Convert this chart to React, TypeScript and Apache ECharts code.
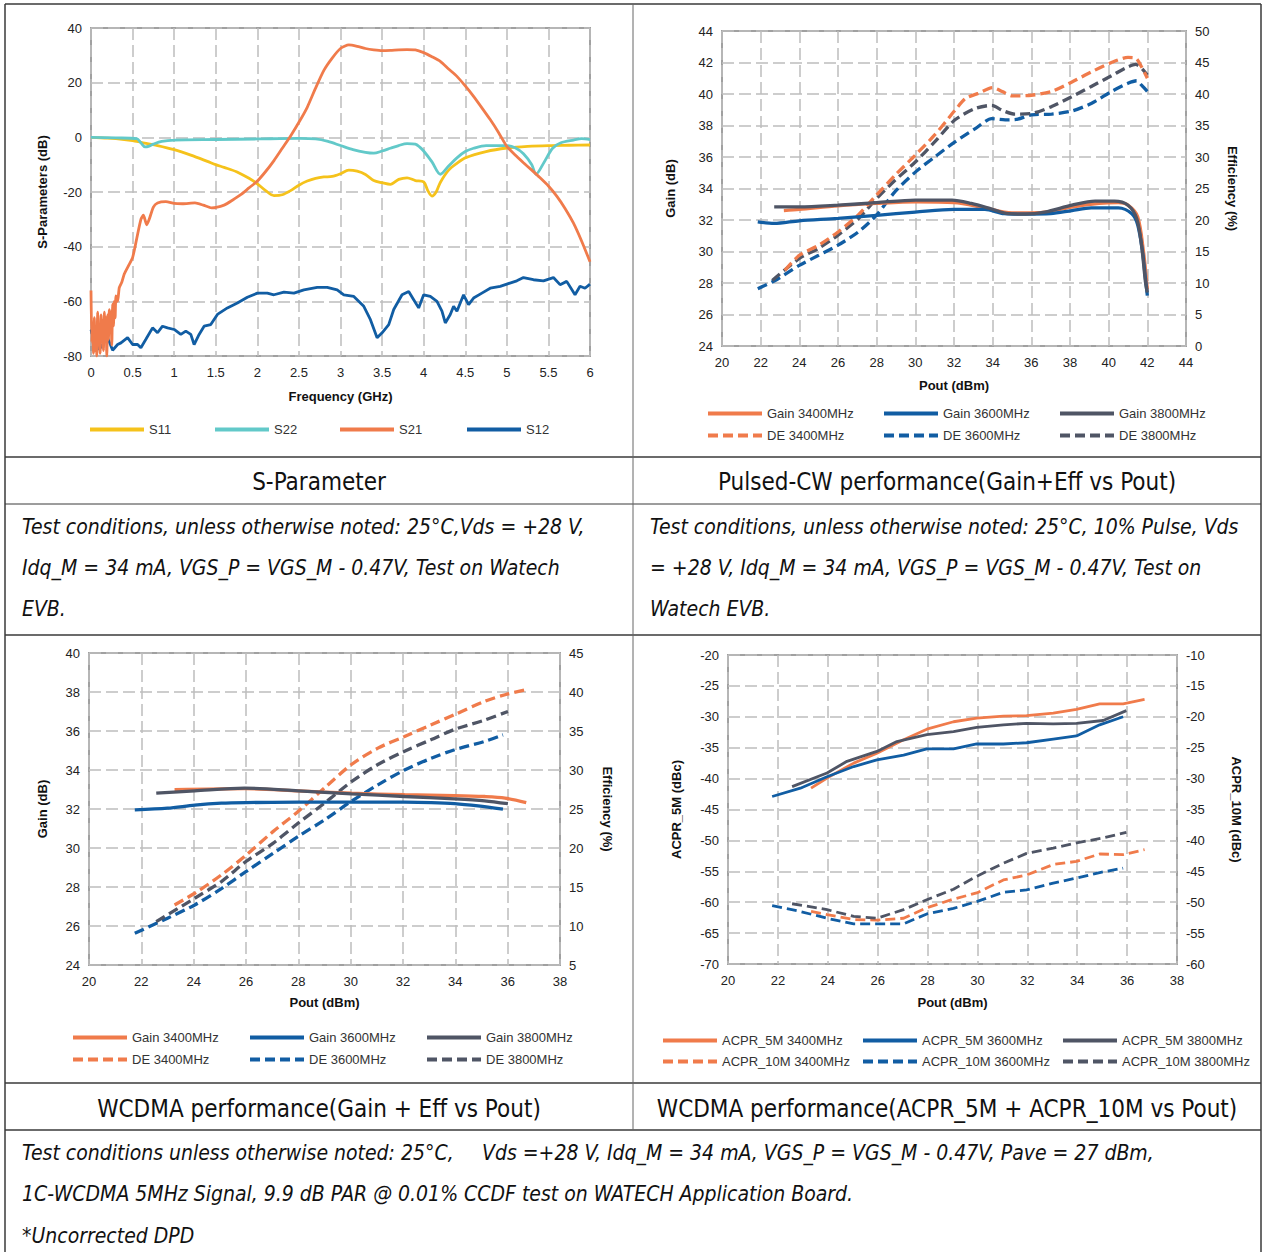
import React, { useEffect, useRef } from "react";
import * as echarts from "echarts";

// ---------- DATA ----------
// S-Parameter (frequency GHz, dB)
const s11 = [[0,0],[0.2,-0.3],[0.4,-0.8],[0.5,-1.2],[0.6,-1.8],[0.8,-3],[1.0,-4.5],[1.2,-6.5],[1.4,-8.8],[1.5,-10],[1.6,-11],[1.75,-12.6],[1.9,-15],[2.0,-17],[2.1,-19.5],[2.2,-21.3],[2.3,-21],[2.4,-19.5],[2.5,-17.5],[2.6,-16],[2.7,-15],[2.8,-14.5],[2.9,-14.3],[3.0,-13.3],[3.1,-12],[3.2,-12.4],[3.3,-13.6],[3.4,-15.8],[3.5,-16.6],[3.6,-17.2],[3.7,-15.4],[3.8,-14.8],[3.9,-15.8],[4.0,-16.3],[4.05,-19.5],[4.1,-21.5],[4.15,-20],[4.2,-16.5],[4.3,-12],[4.4,-9.5],[4.5,-7.5],[4.75,-5.2],[5.0,-3.9],[5.25,-3.3],[5.5,-3],[5.75,-2.9],[6.0,-2.8]];
const s22 = [[0,0],[0.3,-0.2],[0.55,-0.5],[0.6,-2],[0.65,-3.5],[0.7,-3.2],[0.75,-2.5],[0.85,-1.5],[1.0,-1],[1.5,-0.8],[2.0,-0.6],[2.5,-0.4],[2.7,-0.6],[2.85,-1.5],[3.0,-3],[3.15,-4.5],[3.3,-5.5],[3.4,-5.8],[3.5,-5],[3.6,-4],[3.7,-3],[3.8,-2.3],[3.9,-2.5],[3.95,-3.5],[4.0,-5],[4.1,-9],[4.2,-13.5],[4.3,-10.5],[4.4,-7.5],[4.5,-5.2],[4.6,-4],[4.75,-3],[5.0,-3],[5.1,-3.8],[5.2,-6],[5.3,-10],[5.35,-13.5],[5.45,-9],[5.55,-4],[5.65,-2],[5.8,-1],[5.9,-0.5],[6.0,-0.8]];
const s21 = [[0,-56],[0.01,-75],[0.02,-68],[0.03,-79],[0.04,-66],[0.05,-78],[0.06,-70],[0.07,-80],[0.08,-64],[0.09,-76],[0.1,-69],[0.11,-79],[0.12,-65],[0.13,-74],[0.14,-67],[0.15,-78],[0.16,-64],[0.17,-73],[0.18,-66],[0.19,-80],[0.2,-65],[0.21,-74],[0.22,-63],[0.23,-71],[0.24,-64],[0.25,-76],[0.26,-61],[0.27,-69],[0.28,-60],[0.29,-66],[0.3,-58],[0.32,-60],[0.34,-55],[0.37,-53],[0.4,-50],[0.45,-47],[0.5,-44],[0.55,-37],[0.6,-30],[0.63,-28.5],[0.67,-32],[0.7,-30],[0.75,-25.5],[0.8,-24],[0.9,-23.5],[1.0,-24.2],[1.1,-24.3],[1.25,-24],[1.35,-24.8],[1.45,-25.8],[1.6,-24.8],[1.7,-23],[1.8,-21],[1.9,-18.5],[2.0,-16],[2.1,-12.5],[2.2,-8.5],[2.3,-4],[2.4,0.5],[2.5,5.5],[2.6,11],[2.7,18],[2.8,24.5],[2.9,29],[3.0,32.5],[3.1,33.8],[3.2,33.3],[3.3,32.5],[3.4,32],[3.5,31.7],[3.6,31.8],[3.7,32],[3.8,32.1],[3.9,32],[4.0,31],[4.1,29.5],[4.2,27.8],[4.3,25],[4.4,22.3],[4.5,18.8],[4.6,15],[4.7,10.8],[4.8,6.5],[4.9,1.8],[5.0,-3.3],[5.1,-6.5],[5.2,-9.3],[5.3,-12],[5.4,-14.8],[5.5,-17.8],[5.6,-21.5],[5.7,-26],[5.8,-31.3],[5.9,-38],[6.0,-45.5]];
const s12 = [[0,-70.3],[0.04,-74.5],[0.1,-77.6],[0.14,-75.8],[0.2,-73.3],[0.26,-77.9],[0.32,-75.8],[0.36,-75.2],[0.44,-73.3],[0.5,-75.8],[0.56,-75.8],[0.6,-77],[0.66,-73.9],[0.74,-69.7],[0.8,-71.5],[0.86,-69.1],[0.92,-69.7],[1.0,-70.3],[1.08,-72.1],[1.14,-70.9],[1.2,-72.1],[1.24,-75.8],[1.3,-72.1],[1.36,-69.1],[1.44,-68.5],[1.52,-64.8],[1.64,-62.4],[1.76,-60.6],[1.88,-58.5],[2.0,-57],[2.12,-57],[2.2,-57.6],[2.32,-56.6],[2.44,-57],[2.56,-55.8],[2.72,-54.9],[2.84,-54.9],[2.96,-55.8],[3.04,-57.6],[3.16,-58.2],[3.28,-61.8],[3.36,-66.7],[3.44,-73.3],[3.5,-71.5],[3.58,-68.5],[3.64,-63],[3.74,-57.6],[3.82,-56.4],[3.88,-59.4],[3.94,-62.4],[4.0,-57.6],[4.08,-58.2],[4.16,-60],[4.22,-63.6],[4.26,-67.9],[4.32,-64.8],[4.36,-61.8],[4.4,-63.6],[4.48,-57.6],[4.54,-61.2],[4.6,-58.8],[4.7,-57],[4.8,-55.2],[4.92,-54.5],[5.0,-53.7],[5.12,-52.5],[5.2,-51.3],[5.32,-52.1],[5.44,-52.5],[5.56,-51.3],[5.64,-53.9],[5.72,-52.7],[5.82,-57.6],[5.88,-54.5],[5.94,-55.2],[6.0,-53.7]];

// Pulsed-CW (Pout dBm, Gain dB / DE %)
const cwGain3400 = [[23.2,32.6],[24,32.67],[26,32.9],[28,33.05],[30,33.15],[32,33.1],[33.5,32.8],[35,32.45],[36,32.45],[37,32.55],[38,32.8],[39.5,33.05],[40.5,33.1],[41,32.94],[41.5,32.2],[41.8,30],[42,27.6]];
const cwGain3600 = [[21.85,31.88],[22.7,31.78],[24,31.95],[26,32.1],[28,32.3],[30,32.5],[32,32.67],[33.6,32.67],[34.6,32.4],[35.7,32.37],[37,32.4],[38.1,32.6],[39.1,32.77],[40.5,32.77],[41.2,32.4],[41.5,31.7],[41.75,30],[41.9,28.3],[42,27.2]];
const cwGain3800 = [[22.7,32.83],[24,32.83],[26,32.94],[28,33.1],[30,33.26],[31.9,33.26],[32.9,33.05],[33.95,32.7],[34.8,32.4],[35.7,32.37],[36.7,32.5],[38.1,32.94],[39.3,33.2],[40.3,33.2],[41,32.94],[41.45,32.1],[41.7,30.4],[41.9,28.1],[42,27.4]];
const cwDe3400 = [[23.25,12],[24,14.4],[25,16],[26,18.1],[27.05,20.8],[28,24],[28.95,27.1],[30,30.3],[31,33.5],[32.05,37.4],[32.6,39.3],[33.25,40.1],[34,41],[34.5,40.4],[35,39.7],[36,39.8],[37.05,40.4],[38.1,41.9],[39.1,43.5],[40.15,45],[41,45.8],[41.4,45.7],[41.7,44.3],[42,42.5]];
const cwDe3600 = [[21.85,9.1],[22.75,10.4],[24,12.8],[25,14.4],[26,16],[27.05,18.1],[28,20.8],[28.95,24.5],[30,27.6],[31,30],[32.05,32.4],[33.1,34.5],[33.95,36.1],[34.65,35.9],[35.3,36],[36,36.7],[37.05,36.8],[38.1,37.3],[39.1,38.5],[40.15,40.4],[41,41.7],[41.45,42.1],[41.7,41.4],[42,40.4]];
const cwDe3800 = [[22.6,10.4],[24,13.9],[25,15.5],[26,17.6],[27.05,20.2],[28,23.4],[28.95,26.3],[30,29.2],[31,32.4],[32.05,35.9],[33.1,37.7],[33.95,38.2],[34.5,37.4],[35.15,36.8],[36,36.9],[37.05,38],[38.1,39.6],[39.1,41.2],[40.15,42.9],[40.85,44.1],[41.4,44.7],[41.7,44.1],[42,43]];

// WCDMA (Pout dBm, Gain dB / DE %)
const wGain3400 = [[23.27,32.99],[25.95,33.04],[28,32.93],[30.03,32.81],[32.06,32.73],[33.97,32.69],[35.12,32.64],[35.9,32.56],[36.71,32.33]];
const wGain3600 = [[21.75,31.96],[23.0,32.04],[24.04,32.2],[25.06,32.3],[26.01,32.33],[28,32.35],[30.03,32.35],[32.06,32.35],[33.08,32.33],[33.97,32.28],[34.87,32.16],[35.82,31.99]];
const wGain3800 = [[22.57,32.81],[24.04,32.93],[25.95,33.07],[28,32.93],[30.03,32.78],[32.06,32.64],[33.97,32.52],[35.12,32.42],[36.01,32.27]];
const wDe3400 = [[23.27,12.7],[24.04,14.2],[25.06,16.55],[26.01,19.1],[27.03,22.1],[28,24.7],[29.0,27.7],[30.03,30.7],[31.04,32.8],[32.06,34.3],[33.08,35.8],[33.97,37.1],[35.12,38.8],[35.9,39.65],[36.71,40.3]];
const wDe3600 = [[21.75,9.06],[23.0,11],[24.04,12.7],[25.06,14.8],[26.01,17],[27.03,19.3],[28,21.5],[29.0,23.6],[30.03,26],[31.04,28.1],[32.06,30],[33.08,31.5],[33.97,32.6],[35.12,33.66],[35.82,34.5]];
const wDe3800 = [[22.57,10.56],[24.04,13.56],[25.06,15.7],[26.01,18.3],[27.03,20.6],[28,23.2],[29.0,25.75],[30.03,28.5],[31.04,30.7],[32.06,32.4],[33.08,33.9],[33.97,35.2],[35.12,36.4],[36.01,37.5]];

// WCDMA ACPR (Pout dBm, dBc)
const acpr5m3400 = [[23.33,-41.55],[23.97,-39.9],[25.04,-37.5],[25.97,-35.9],[27.04,-33.7],[27.97,-32.0],[29.04,-30.8],[29.97,-30.2],[31.04,-29.9],[31.97,-29.8],[33.04,-29.4],[33.97,-28.8],[34.9,-27.9],[35.84,-27.9],[36.7,-27.2]];
const acpr5m3600 = [[21.77,-42.9],[22.9,-41.55],[23.97,-39.7],[25.04,-38.05],[25.97,-36.97],[27.04,-36.2],[27.97,-35.2],[29.04,-35.2],[29.97,-34.4],[31.04,-34.4],[31.97,-34.2],[33.04,-33.6],[33.97,-33.1],[34.9,-31.3],[35.84,-30.0]];
const acpr5m3800 = [[22.57,-41.3],[23.97,-39.1],[24.77,-37.2],[25.97,-35.6],[26.77,-34],[27.97,-32.9],[29.04,-32.4],[29.97,-31.7],[31.04,-31.3],[31.97,-31.05],[33.04,-31.15],[33.97,-31.05],[35.04,-30.6],[35.97,-29.0]];
const acpr10m3400 = [[23.33,-51.5],[23.97,-52],[25.04,-52.8],[25.97,-52.9],[27.04,-52.6],[27.97,-50.9],[29.04,-49.5],[29.97,-48.5],[31.04,-46.4],[31.97,-45.6],[33.04,-43.9],[33.97,-43.4],[34.9,-42.2],[35.84,-42.3],[36.7,-41.5]];
const acpr10m3600 = [[21.77,-50.57],[22.9,-51.5],[23.97,-52.6],[25.04,-53.5],[25.97,-53.5],[27.04,-53.5],[27.97,-51.9],[29.04,-51],[29.97,-49.9],[31.04,-48.4],[31.97,-48],[33.04,-46.9],[33.97,-46.1],[34.9,-45.2],[35.84,-44.5]];
const acpr10m3800 = [[22.57,-50.25],[23.97,-51.2],[25.04,-52.3],[25.97,-52.6],[27.04,-51.2],[27.97,-49.6],[29.04,-47.9],[29.97,-45.8],[31.04,-43.7],[31.97,-42.1],[33.04,-41.25],[33.97,-40.4],[35.04,-39.6],[35.97,-38.7]];

// Texts
const titles = ["S-Parameter", "Pulsed-CW performance(Gain+Eff vs Pout)", "WCDMA performance(Gain + Eff vs Pout)", "WCDMA performance(ACPR_5M + ACPR_10M vs Pout)"];
const condLeft = ["Test conditions, unless otherwise noted: 25°C,Vds = +28 V,", "Idq_M = 34 mA, VGS_P = VGS_M - 0.47V, Test on Watech", "EVB."];
const condRight = ["Test conditions, unless otherwise noted: 25°C, 10% Pulse, Vds", "= +28 V, Idq_M = 34 mA, VGS_P = VGS_M - 0.47V, Test on", "Watech EVB."];
const condBottomA = "Test conditions unless otherwise noted: 25°C,";
const condBottomB = "Vds =+28 V, Idq_M = 34 mA, VGS_P = VGS_M - 0.47V, Pave = 27 dBm,";
const condBottom = ["1C-WCDMA 5MHz Signal, 9.9 dB PAR @ 0.01% CCDF test on WATECH Application Board.", "*Uncorrected DPD"];

// ---------- STYLE ----------
const ORANGE = "#F07B4B";
const BLUE = "#115DA3";
const GRAY = "#4F5565";
const YELLOW = "#F5C21B";
const TEAL = "#62C9C9";
const FONT = "'Liberation Sans', Arial, sans-serif";
const DOC_FONT = "'Liberation Sans Narrow', 'DejaVu Sans Condensed', 'Open Sans', sans-serif";

const gridBox = (left: number, top: number, width: number, height: number) => ({
  left, top, width, height, show: true, borderColor: "#A0A0A0", borderWidth: 2, backgroundColor: "transparent",
});

const splitStyle = { show: true, lineStyle: { color: "#BDBDBD", width: 1.5, type: [12, 5] } };

const valueAxis = (gridIndex: number, min: number, max: number, interval: number, extra: any) => ({
  type: "value", gridIndex, min, max, interval,
  axisLine: { show: false }, axisTick: { show: false },
  axisLabel: { color: "#222", fontSize: 13, fontFamily: FONT, margin: 9 },
  nameTextStyle: { color: "#111", fontSize: 13, fontWeight: "bold", fontFamily: FONT },
  nameLocation: "middle",
  ...extra,
});

const line = (name: string, data: number[][], xi: number, yi: number, color: string, dashed: boolean, width: number, smooth: number | boolean) => ({
  type: "line", name, data, xAxisIndex: xi, yAxisIndex: yi,
  symbol: "none", showSymbol: false, smooth,
  lineStyle: { color, width, type: dashed ? [10, 5] : "solid" },
  itemStyle: { color },
  emphasis: { disabled: true },
});

const legendItem = (name: string, left: number, yCenter: number, w = 54) => ({
  data: [name], left, top: yCenter - 7, itemWidth: w, itemHeight: 14, padding: 0, itemGap: 0,
  selectedMode: false,
  itemStyle: { opacity: 0, borderWidth: 0 },
  lineStyle: { width: 4 },
  textStyle: { fontSize: 13, color: "#333", fontFamily: FONT },
});

const hLine = (y: number, x1 = 5, x2 = 1261, w = 1.5) => ({
  type: "line", silent: true, shape: { x1, y1: y, x2, y2: y }, style: { stroke: "#3a3a3a", lineWidth: w },
});
const vLine = (x: number, y1: number, y2: number, w = 1.5, c = "#3a3a3a") => ({
  type: "line", silent: true, shape: { x1: x, y1, x2: x, y2 }, style: { stroke: c, lineWidth: w },
});
const docText = (text: string, x: number, y: number, italic: boolean, size: number, align = "left") => ({
  type: "text", silent: true, x, y,
  style: {
    text, fill: "#111", fontSize: size, fontFamily: DOC_FONT, fontStyle: italic ? "italic" : "normal",
    textAlign: align, align, textVerticalAlign: "middle", verticalAlign: "middle",
  },
});

export default function App() {
  const ref = useRef<HTMLDivElement>(null);
  useEffect(() => {
    if (!ref.current) return;
    const chart = echarts.init(ref.current, undefined, { renderer: "svg" });
    const xLabel = { color: "#222", fontSize: 13, fontFamily: FONT, margin: 10 };
    const option: any = {
      animation: false,
      backgroundColor: "#fff",
      grid: [gridBox(91, 28, 499, 328), gridBox(722, 31, 464, 315), gridBox(89, 653, 471, 312), gridBox(728, 655, 449, 309)],
      xAxis: [
        valueAxis(0, 0, 6, 0.5, { name: "Frequency (GHz)", nameGap: 34, splitLine: splitStyle, axisLabel: xLabel }),
        valueAxis(1, 20, 44, 2, { name: "Pout (dBm)", nameGap: 33, splitLine: splitStyle, axisLabel: xLabel }),
        valueAxis(2, 20, 38, 2, { name: "Pout (dBm)", nameGap: 31, splitLine: splitStyle, axisLabel: xLabel }),
        valueAxis(3, 20, 38, 2, { name: "Pout (dBm)", nameGap: 32, splitLine: splitStyle, axisLabel: xLabel }),
      ],
      yAxis: [
        valueAxis(0, -80, 40, 20, { name: "S-Parameters (dB)", nameGap: 42, nameRotate: 90, splitLine: splitStyle }),
        valueAxis(1, 24, 44, 2, { name: "Gain (dB)", nameGap: 45, nameRotate: 90, splitLine: splitStyle }),
        valueAxis(1, 0, 50, 5, { name: "Efficiency (%)", nameGap: 40, nameRotate: -90, position: "right", splitLine: { show: false } }),
        valueAxis(2, 24, 40, 2, { name: "Gain (dB)", nameGap: 40, nameRotate: 90, splitLine: splitStyle }),
        valueAxis(2, 5, 45, 5, { name: "Efficiency (%)", nameGap: 41, nameRotate: -90, position: "right", splitLine: { show: false } }),
        valueAxis(3, -70, -20, 5, { name: "ACPR_5M (dBc)", nameGap: 45, nameRotate: 90, splitLine: splitStyle }),
        valueAxis(3, -60, -10, 5, { name: "ACPR_10M (dBc)", nameGap: 53, nameRotate: -90, position: "right", splitLine: { show: false } }),
      ],
      legend: [
        legendItem("S11", 88, 430), legendItem("S22", 213, 430), legendItem("S21", 338, 430), legendItem("S12", 465, 430),
        legendItem("Gain 3400MHz", 706, 414), legendItem("Gain 3600MHz", 882, 414), legendItem("Gain 3800MHz", 1058, 414),
        legendItem("DE 3400MHz", 706, 436), legendItem("DE 3600MHz", 882, 436), legendItem("DE 3800MHz", 1058, 436),
        legendItem("Gain 3400MHz", 71, 1038), legendItem("Gain 3600MHz", 248, 1038), legendItem("Gain 3800MHz", 425, 1038),
        legendItem("DE 3400MHz", 71, 1060), legendItem("DE 3600MHz", 248, 1060), legendItem("DE 3800MHz", 425, 1060),
        legendItem("ACPR_5M 3400MHz", 661, 1041), legendItem("ACPR_5M 3600MHz", 861, 1041), legendItem("ACPR_5M 3800MHz", 1061, 1041),
        legendItem("ACPR_10M 3400MHz", 661, 1062), legendItem("ACPR_10M 3600MHz", 861, 1062), legendItem("ACPR_10M 3800MHz", 1061, 1062),
      ],
      series: [
        line("S12", s12, 0, 0, BLUE, false, 2.8, false),
        line("S11", s11, 0, 0, YELLOW, false, 2.8, 0.3),
        line("S22", s22, 0, 0, TEAL, false, 2.8, 0.3),
        line("S21", s21, 0, 0, ORANGE, false, 2.8, 0.2),

        line("DE 3600MHz", cwDe3600, 1, 2, BLUE, true, 3.3, 0.25),
        line("DE 3800MHz", cwDe3800, 1, 2, GRAY, true, 3.3, 0.25),
        line("DE 3400MHz", cwDe3400, 1, 2, ORANGE, true, 3.3, 0.25),
        line("Gain 3400MHz", cwGain3400, 1, 1, ORANGE, false, 3.3, 0.3),
        line("Gain 3600MHz", cwGain3600, 1, 1, BLUE, false, 3.3, 0.3),
        line("Gain 3800MHz", cwGain3800, 1, 1, GRAY, false, 3.3, 0.3),

        line("DE 3600MHz", wDe3600, 2, 4, BLUE, true, 3.3, 0.3),
        line("DE 3800MHz", wDe3800, 2, 4, GRAY, true, 3.3, 0.3),
        line("DE 3400MHz", wDe3400, 2, 4, ORANGE, true, 3.3, 0.3),
        line("Gain 3400MHz", wGain3400, 2, 3, ORANGE, false, 3.3, 0.3),
        line("Gain 3600MHz", wGain3600, 2, 3, BLUE, false, 3.3, 0.3),
        line("Gain 3800MHz", wGain3800, 2, 3, GRAY, false, 3.3, 0.3),

        line("ACPR_5M 3400MHz", acpr5m3400, 3, 5, ORANGE, false, 2.8, false),
        line("ACPR_5M 3600MHz", acpr5m3600, 3, 5, BLUE, false, 2.8, false),
        line("ACPR_5M 3800MHz", acpr5m3800, 3, 5, GRAY, false, 2.8, false),
        line("ACPR_10M 3400MHz", acpr10m3400, 3, 6, ORANGE, true, 2.8, false),
        line("ACPR_10M 3600MHz", acpr10m3600, 3, 6, BLUE, true, 2.8, false),
        line("ACPR_10M 3800MHz", acpr10m3800, 3, 6, GRAY, true, 2.8, false),
      ],
      graphic: [
        hLine(4), hLine(457), hLine(504, 5, 1261, 1), hLine(635), hLine(1083), hLine(1130),
        vLine(5, 4, 1252), vLine(1261, 4, 1252), vLine(633, 4, 1130, 1, "#666"),
        docText(titles[0], 319, 482, false, 24, "center"),
        docText(titles[1], 947, 482, false, 24, "center"),
        docText(titles[2], 319, 1109, false, 24, "center"),
        docText(titles[3], 947, 1109, false, 24, "center"),
        ...condLeft.map((t, i) => docText(t, 22, 527 + i * 41, true, 21)),
        ...condRight.map((t, i) => docText(t, 650, 527 + i * 41, true, 21)),
        docText(condBottomA, 22, 1153, true, 21),
        docText(condBottomB, 482, 1153, true, 21),
        ...condBottom.map((t, i) => docText(t, 22, 1194 + i * 42, true, 21)),
      ],
    };
    chart.setOption(option);
    return () => chart.dispose();
  }, []);
  return <div ref={ref} style={{ position: "absolute", left: 0, top: 0, width: 1263, height: 1252, background: "#fff" }} />;
}
